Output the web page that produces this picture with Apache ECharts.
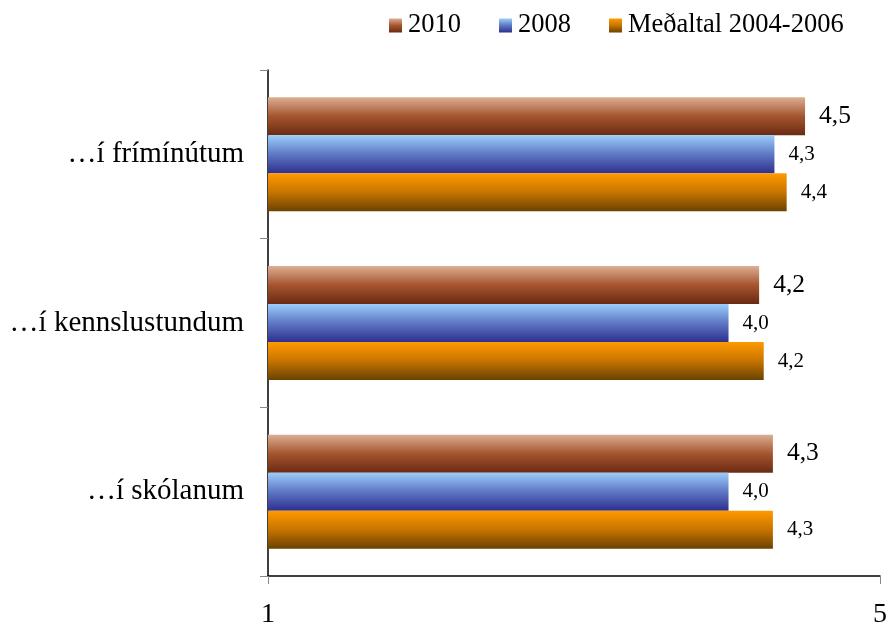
<!DOCTYPE html>
<html>
<head>
<meta charset="utf-8">
<script src="https://cdn.jsdelivr.net/npm/echarts@6/dist/echarts.min.js"></script>
<style>
  html, body { margin: 0; padding: 0; background: #fff; }
  #chart { width: 890px; height: 633px; }
</style>
</head>
<body>
<div id="chart"></div>
<script>
// flokkar (neðst upp)
const categories = ["…í skólanum", "…í kennslustundum", "…í frímínútum"];
const seriesNames = ["2010", "2008", "Meðaltal 2004-2006"];
const values2010 = [4.3, 4.21, 4.51];
const values2008 = [4.01, 4.01, 4.31];
const valuesMean = [4.3, 4.24, 4.39];
const xTicks = [1, 5];

const grad = (top, mid, bottom) =>
  new echarts.graphic.LinearGradient(0, 0, 0, 1, [
    { offset: 0, color: top },
    { offset: 0.5, color: mid },
    { offset: 1, color: bottom },
  ]);

const fmt = (p) => p.value.toFixed(1).replace(".", ",");
const serif = "'Liberation Serif', 'DejaVu Serif', serif";

const chart = echarts.init(document.getElementById("chart"));

const makeSeries = (name, data, color, size) => ({
  name: name,
  type: "bar",
  data: data,
  barWidth: 38,
  barGap: "0%",
  itemStyle: { color: color },
  label: {
    show: true,
    position: "right",
    distance: 14,
    formatter: fmt,
    fontFamily: serif,
    fontSize: size,
    color: "#000",
  },
});

const option = {
  animation: false,
  backgroundColor: "#fff",
  legend: {
    top: 7,
    left: 384,
    itemWidth: 13,
    itemHeight: 14,
    itemGap: 38,
    icon: "rect",
    textStyle: { fontFamily: serif, fontSize: 26.5, color: "#000", padding: [0, 0, 0, 1] },
    data: seriesNames,
  },
  grid: { left: 268, right: 9, top: 70, bottom: 57, containLabel: false },
  xAxis: {
    type: "value",
    min: 1,
    max: 5,
    interval: 1,
    axisLine: { show: true, lineStyle: { color: "#000", width: 1.5 } },
    axisTick: {
      show: true,
      length: 8,
      customValues: xTicks,
      lineStyle: { color: "#888" },
    },
    axisLabel: {
      customValues: xTicks,
      margin: 25,
      fontFamily: serif,
      fontSize: 28,
      color: "#000",
    },
    splitLine: { show: false },
  },
  yAxis: {
    type: "category",
    data: categories,
    axisLine: { show: true, lineStyle: { color: "#000", width: 1.5 } },
    axisTick: { show: true, length: 8, lineStyle: { color: "#888" } },
    axisLabel: {
      margin: 24,
      fontFamily: serif,
      fontSize: 29,
      color: "#000",
    },
  },
  series: [
    makeSeries("2010", values2010, grad("#dcae94", "#a5552f", "#6a2a12"), 25.5),
    makeSeries("2008", values2008, grad("#9ccdfa", "#5e78c4", "#2e2f8e"), 21),
    makeSeries("Meðaltal 2004-2006", valuesMean, grad("#ff9a00", "#c77400", "#6a4200"), 21),
  ],
};

chart.setOption(option);
</script>
</body>
</html>
